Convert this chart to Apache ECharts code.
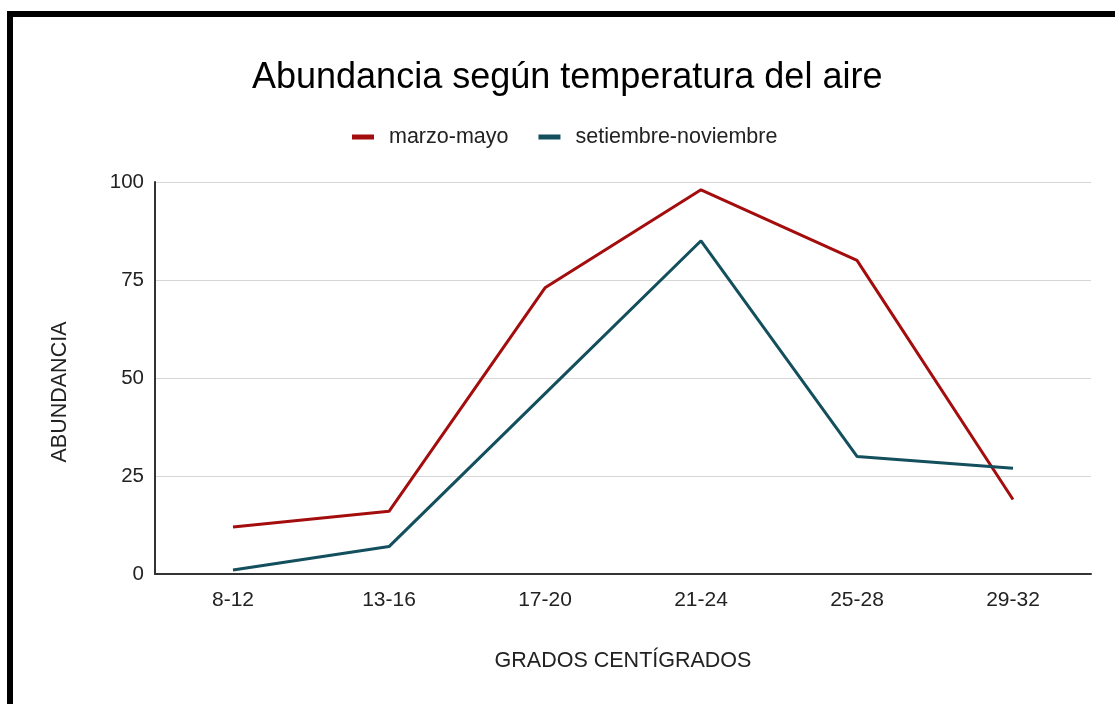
<!DOCTYPE html>
<html>
<head>
<meta charset="utf-8">
<script src="https://cdn.jsdelivr.net/npm/echarts@6/dist/echarts.min.js"></script>
<style>
  html, body { margin: 0; padding: 0; background: #fff; }
  #main { width: 1115px; height: 704px; }
</style>
</head>
<body>
<div id="main"></div>
<script>
var categories = ['8-12', '13-16', '17-20', '21-24', '25-28', '29-32'];
var marzoMayo = [12, 16, 73, 98, 80, 19];
var setiembreNoviembre = [1, 7, 46, 85, 30, 27];

var chart = echarts.init(document.getElementById('main'));
var font = 'Liberation Sans, Arial, sans-serif';

chart.setOption({
  animation: false,
  textStyle: { fontFamily: font },
  // black frame round the chart (top and left edges visible)
  graphic: [{
    type: 'rect',
    shape: { x: 10, y: 14, width: 1300, height: 900 },
    style: { fill: 'none', stroke: '#000', lineWidth: 6 }
  }],
  title: {
    text: 'Abundancia según temperatura del aire',
    left: 247,
    top: 55,
    textStyle: { fontFamily: font, fontSize: 36, fontWeight: 'normal', color: '#000' }
  },
  legend: {
    top: 121,
    left: 347,
    itemWidth: 22,
    itemHeight: 5,
    itemGap: 30,
    icon: 'rect',
    textStyle: { fontFamily: font, fontSize: 21.5, color: '#222', padding: [0, 0, 0, 10] },
    data: ['marzo-mayo', 'setiembre-noviembre']
  },
  grid: { left: 155, right: 24, top: 182, bottom: 130 },
  xAxis: {
    type: 'category',
    data: categories,
    boundaryGap: true,
    name: 'GRADOS CENTÍGRADOS',
    nameLocation: 'middle',
    nameGap: 76,
    nameTextStyle: { fontFamily: font, fontSize: 21.5, color: '#222' },
    axisLine: { lineStyle: { color: '#333', width: 2 } },
    axisTick: { show: false },
    axisLabel: { fontFamily: font, fontSize: 21, color: '#222', margin: 16 }
  },
  yAxis: {
    type: 'value',
    min: 0,
    max: 100,
    interval: 25,
    name: 'ABUNDANCIA',
    nameLocation: 'middle',
    nameGap: 84,
    nameRotate: 90,
    nameTextStyle: { fontFamily: font, fontSize: 21.5, color: '#222', padding: [0, 28, 0, 0] },
    axisLine: { show: true, lineStyle: { color: '#333', width: 2 } },
    axisTick: { show: false },
    axisLabel: { fontFamily: font, fontSize: 20.5, color: '#222', margin: 11 },
    splitLine: { lineStyle: { color: '#d6d6d6', width: 1 } }
  },
  series: [
    {
      name: 'marzo-mayo',
      type: 'line',
      data: marzoMayo,
      symbol: 'none',
      color: '#a30d0d',
      lineStyle: { width: 3 }
    },
    {
      name: 'setiembre-noviembre',
      type: 'line',
      data: setiembreNoviembre,
      symbol: 'none',
      color: '#134f5c',
      lineStyle: { width: 3 }
    }
  ]
});
</script>
</body>
</html>
